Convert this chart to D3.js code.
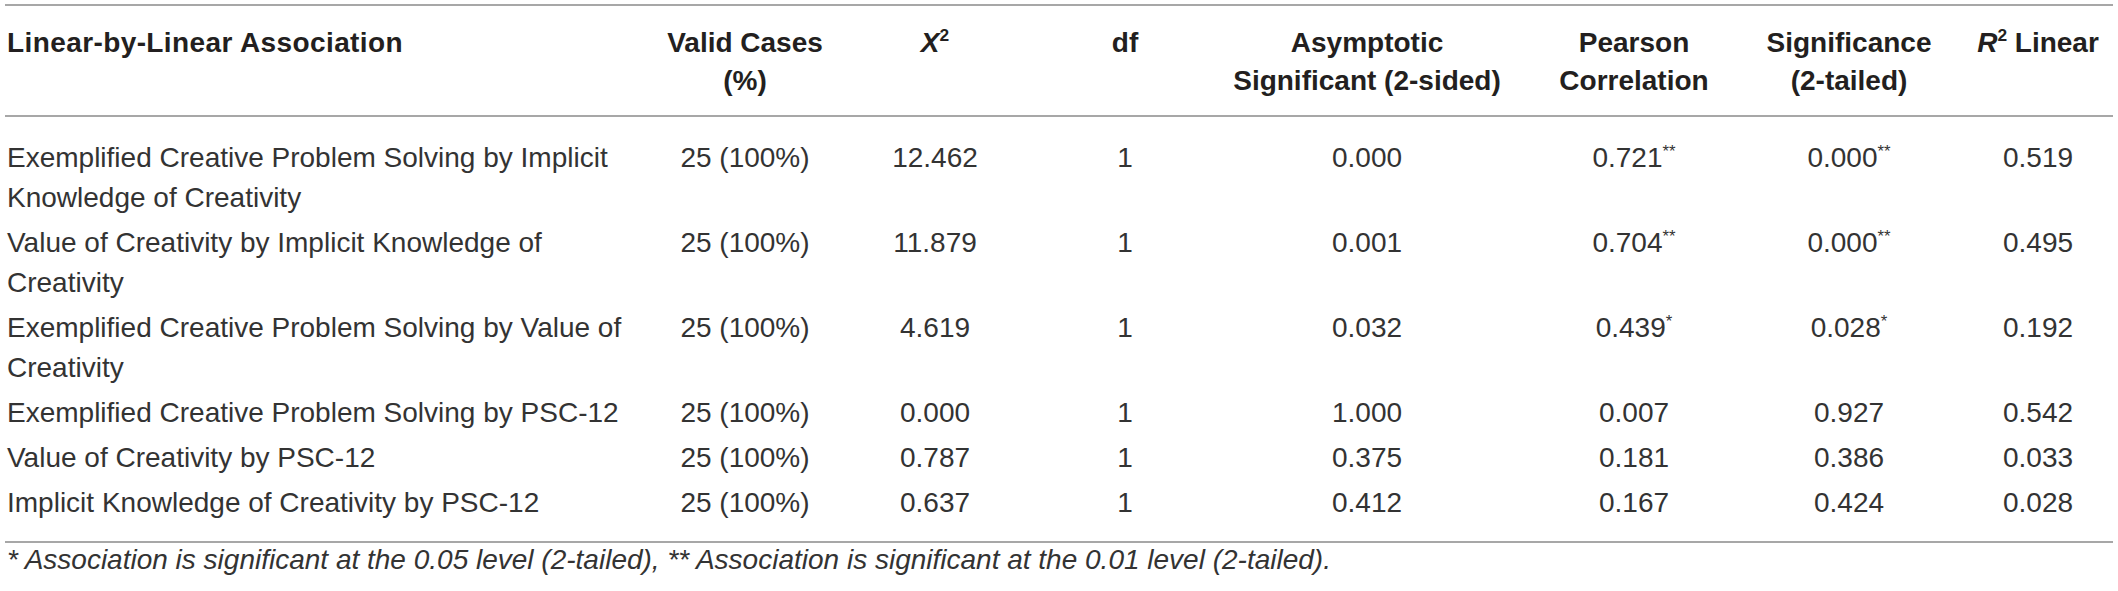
<!DOCTYPE html>
<html>
<head>
<meta charset="utf-8">
<script src="https://cdn.jsdelivr.net/npm/d3@7"></script>
<style>
  body { margin: 0; background: #fff; }
  svg text { font-family: "Liberation Sans", Arial, Helvetica, sans-serif; fill: #231f20; }
</style>
</head>
<body>
<svg></svg>
<script>
// table content
var headers = [
  ["Linear-by-Linear Association"],
  ["Valid Cases", "(%)"],
  ["X²"],
  ["df"],
  ["Asymptotic", "Significant (2-sided)"],
  ["Pearson", "Correlation"],
  ["Significance", "(2-tailed)"],
  ["R² Linear"]
];
var associations = [
  "Exemplified Creative Problem Solving by Implicit Knowledge of Creativity",
  "Value of Creativity by Implicit Knowledge of Creativity",
  "Exemplified Creative Problem Solving by Value of Creativity",
  "Exemplified Creative Problem Solving by PSC-12",
  "Value of Creativity by PSC-12",
  "Implicit Knowledge of Creativity by PSC-12"
];
var validN = [25, 25, 25, 25, 25, 25];
var validPct = [100, 100, 100, 100, 100, 100];
var chiSquare = [12.462, 11.879, 4.619, 0.000, 0.787, 0.637];
var dfs = [1, 1, 1, 1, 1, 1];
var asympSig = [0.000, 0.001, 0.032, 1.000, 0.375, 0.412];
var pearson = [0.721, 0.704, 0.439, 0.007, 0.181, 0.167];
var sigTwoTailed = [0.000, 0.000, 0.028, 0.927, 0.386, 0.424];
var rSquare = [0.519, 0.495, 0.192, 0.542, 0.033, 0.028];
var stars = ["**", "**", "*", "", "", ""];
var footnote = "* Association is significant at the 0.05 level (2-tailed), ** Association is significant at the 0.01 level (2-tailed).";

// set the dimensions
var width = 2118,
    height = 591,
    left = 7,
    right = 2113,
    fontSize = 28,
    lineH = 40,
    labelWrap = 640;

var svg = d3.select("svg")
    .attr("width", width)
    .attr("height", height);

svg.append("rect").attr("width", width).attr("height", height).attr("fill", "#fff");

var cols = ["label", "valid", "chi", "df", "asym", "pearson", "sig", "r2"];
var x = d3.scaleOrdinal()
  .domain(cols)
  .range([left, 745, 935, 1125, 1367, 1634, 1849, 2038]);

var f3 = d3.format(".3f");

// rules
var rules = [5, 116, 542];
svg.selectAll("line.rule")
  .data(rules)
  .enter()
  .append("line")
  .attr("class", "rule")
  .attr("x1", 5).attr("x2", right)
  .attr("y1", function (d) { return d; })
  .attr("y2", function (d) { return d; })
  .attr("stroke", "#8a8a8a")
  .attr("stroke-width", 1.6);

// header
var headG = svg.append("g").attr("font-weight", "bold").attr("font-size", fontSize);
headers.forEach(function (lines, i) {
  var t = headG.append("text")
    .attr("x", x(cols[i]))
    .attr("text-anchor", i === 0 ? "start" : "middle")
    .attr("letter-spacing", i === 0 ? 0.4 : 0);
  lines.forEach(function (s, j) {
    var y = 52 + j * 38;
    var m = s.match(/^([A-Z])²(.*)$/);
    if (m) {
      t.append("tspan").attr("x", x(cols[i])).attr("y", y).attr("font-style", "italic").text(m[1]);
      t.append("tspan").attr("font-size", "0.62em").attr("dy", -11).text("2");
      if (m[2]) t.append("tspan").attr("dy", 11).text(m[2]);
    } else {
      t.append("tspan").attr("x", x(cols[i])).attr("y", y).text(s);
    }
  });
});

// body
var body = svg.append("g").attr("font-size", fontSize).style("fill", "#333");

// wrap the association labels and lay out the rows
var rowY = [];
var yCur = 167;
associations.forEach(function (label, i) {
  var t = body.append("text").attr("x", left).attr("y", yCur).style("fill", "#333");
  var words = label.split(" "), line = [], lines = [];
  var probe = t.append("tspan");
  words.forEach(function (w) {
    line.push(w);
    probe.text(line.join(" "));
    if (probe.node().getComputedTextLength() > labelWrap && line.length > 1) {
      line.pop();
      lines.push(line.join(" "));
      line = [w];
    }
  });
  lines.push(line.join(" "));
  probe.remove();
  lines.forEach(function (s, j) {
    t.append("tspan").attr("x", left).attr("y", yCur + j * lineH).text(s);
  });
  rowY.push(yCur);
  yCur += lines.length * lineH + 5;
});

function cell(col, values, fmt, marks) {
  var g = body.append("g");
  values.forEach(function (v, i) {
    var t = g.append("text")
      .attr("x", x(col))
      .attr("y", rowY[i])
      .attr("text-anchor", "middle")
      .style("fill", "#333");
    t.append("tspan").text(fmt(v, i));
    if (marks && marks[i]) {
      t.append("tspan").attr("font-size", "0.6em").attr("dy", -10).text(marks[i]);
    }
  });
}

cell("valid", validN, function (v, i) { return v + " (" + validPct[i] + "%)"; });
cell("chi", chiSquare, f3);
cell("df", dfs, function (v) { return v; });
cell("asym", asympSig, f3);
cell("pearson", pearson, f3, stars);
cell("sig", sigTwoTailed, f3, stars);
cell("r2", rSquare, f3);

// footnote
svg.append("text")
  .attr("x", left)
  .attr("y", 569)
  .attr("font-size", 28)
  .attr("font-style", "italic")
  .style("fill", "#333")
  .text(footnote);
</script>
</body>
</html>
